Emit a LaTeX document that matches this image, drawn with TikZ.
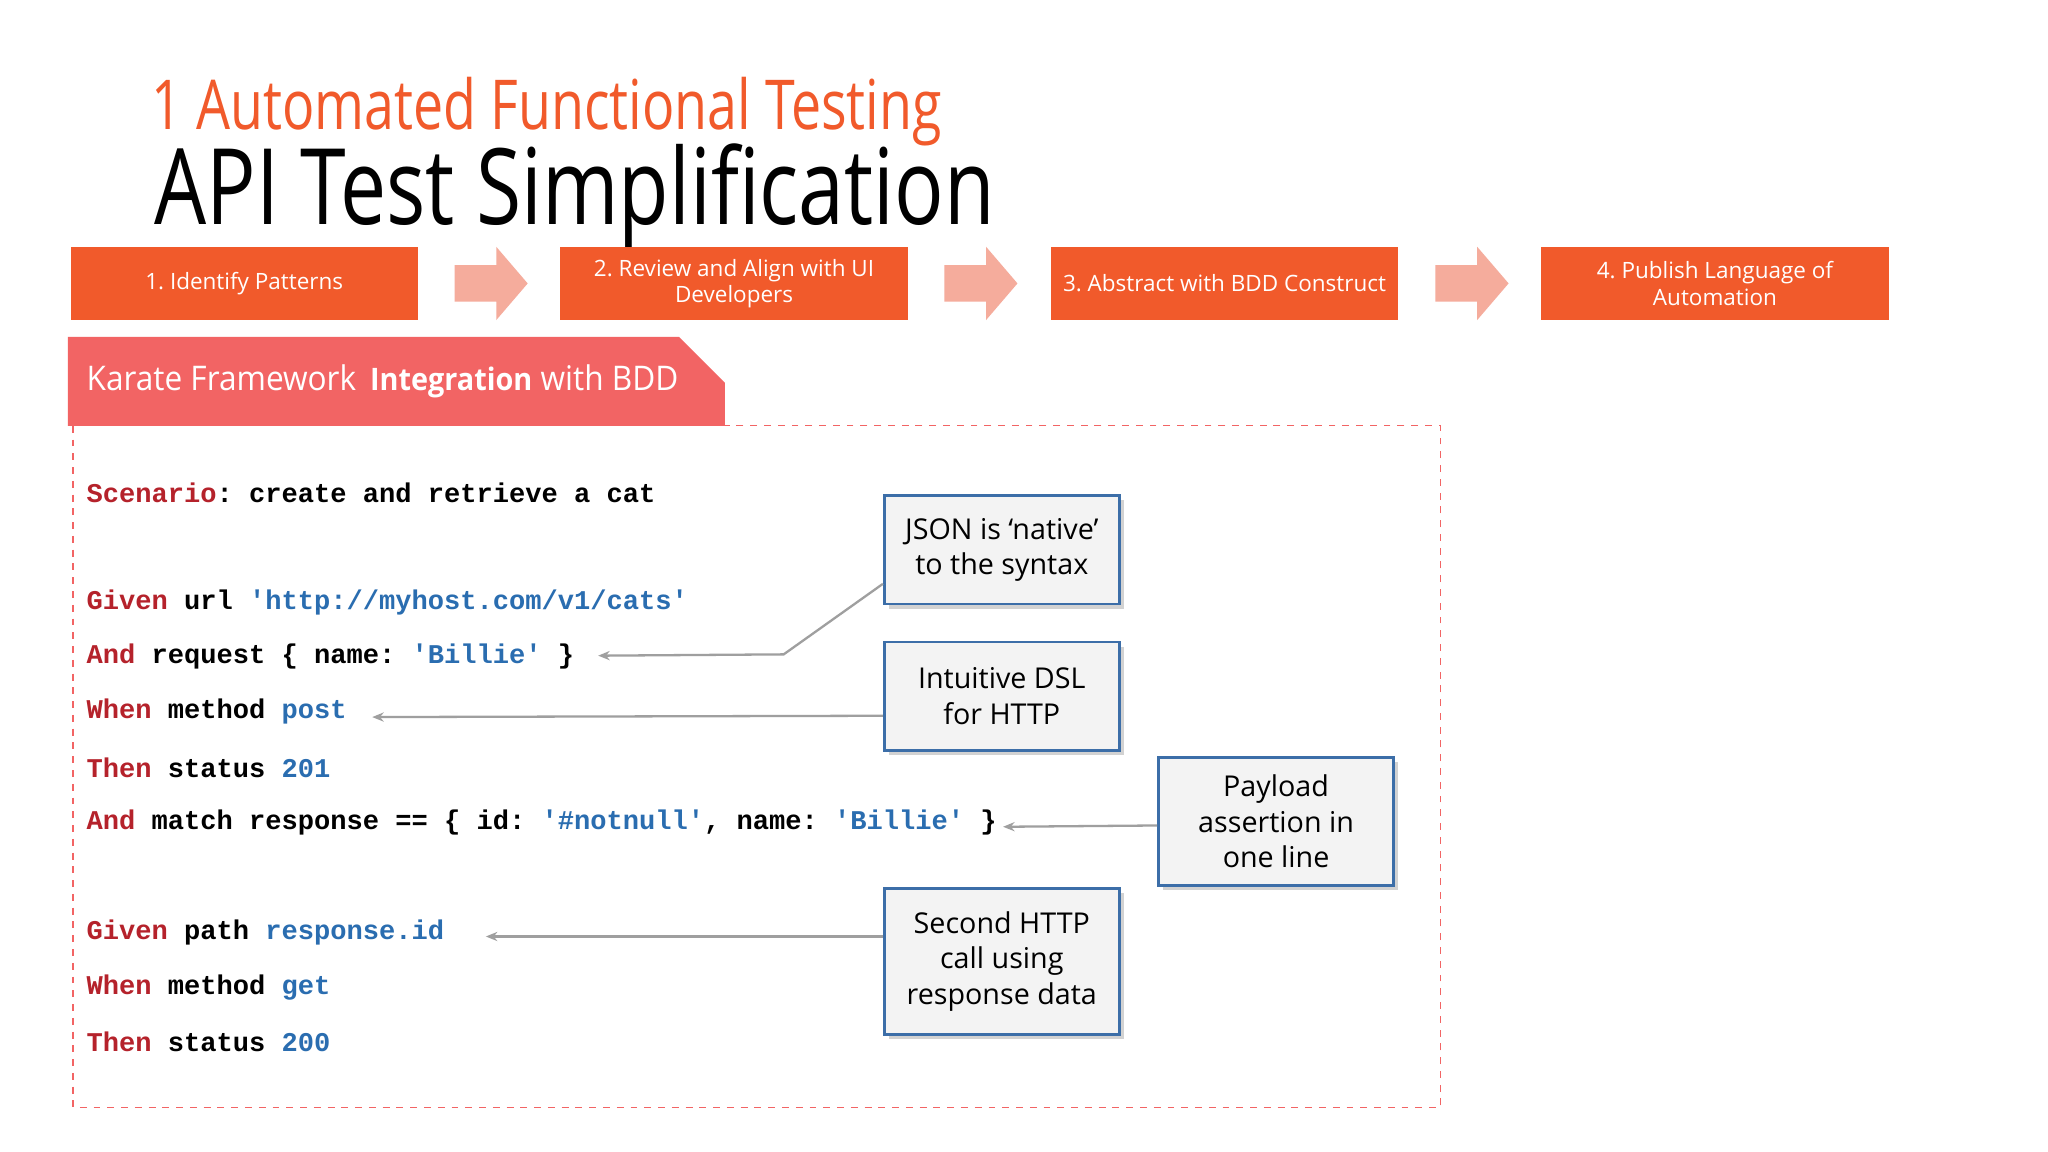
\documentclass[tikz,border=0pt]{standalone}
\usepackage{fontspec}
\setmainfont{Open Sans}
\newfontfamily\titlefont{Open Sans}[FakeStretch=0.78]
\newfontfamily\banfont{Open Sans}[FakeStretch=0.93]
\newfontfamily\codefont{Liberation Mono}
\usetikzlibrary{arrows.meta,shadows}
\frenchspacing
\definecolor{stepor}{HTML}{F15A2B}
\definecolor{arrpink}{HTML}{F5AC9C}
\definecolor{bannerred}{HTML}{F26464}
\definecolor{kw}{HTML}{B5222B}
\definecolor{str}{HTML}{2A6DB0}
\definecolor{cbord}{HTML}{3C6EA8}
\definecolor{cfill}{HTML}{F3F3F3}
\tikzset{
 stepbox/.style={fill=stepor,text=white,minimum width=5.32cm,minimum height=1.12cm,align=center,font=\fontsize{9.8}{11.5}\selectfont,inner sep=0pt},
 callout/.style={draw=cbord,line width=1.2pt,fill=cfill,minimum width=3.6cm,align=center,font=\fontsize{12.5}{15.5}\selectfont,drop shadow={shadow xshift=2pt,shadow yshift=-2pt,opacity=.35}},
 codeline/.style={anchor=west,inner sep=0pt,font=\codefont\bfseries\fontsize{11.8}{14}\selectfont\frenchspacing},
 conn/.style={draw=gray!75,line width=1pt,-{Stealth[length=5pt,width=4pt]}},
 steparrow/.style={fill=arrpink}
}
\newcommand{\kw}[1]{\textcolor{kw}{#1}}
\newcommand{\st}[1]{\textcolor{str}{#1}}
\begin{document}
\begin{tikzpicture}[x=0.02cm,y=-0.02cm]
\useasboundingbox[fill=white] (0,0) rectangle (1568,882);
\node[anchor=base west,text=stepor,inner sep=0pt,font=\titlefont\fontsize{30}{36}\selectfont] (sub) at (116,99) {1 Automated Functional Testing};
\node[anchor=base west,inner sep=0pt,font=\titlefont\fontsize{46}{52}\selectfont] (title) at (118,172) {API Test Simplification};
\node[stepbox] (s1) at (187,217) {1. Identify Patterns};
\node[stepbox] (s2) at (562,217) {2. Review and Align with UI\\Developers};
\node[stepbox] (s3) at (937.5,217) {3. Abstract with BDD Construct};
\node[stepbox] (s4) at (1313,217) {4. Publish Language of\\Automation};
\foreach \x in {348,723,1099}{
 \fill[steparrow] (\x,203) -- (\x+32,203) -- (\x+32,189) -- (\x+56,217) -- (\x+32,245) -- (\x+32,231) -- (\x,231) -- cycle;}
\fill[bannerred] (52,258) -- (520,258) -- (555,293) -- (555,326) -- (52,326) -- cycle;
\node[anchor=base west,text=white,inner sep=0pt,font=\banfont\fontsize{14.8}{18}\selectfont] (ban) at (66,299) {Karate Framework\, \textbf{\fontsize{13.5}{16}\selectfont Integration} with BDD};
\draw[bannerred,dashed,line width=0.6pt] (56,326) rectangle (1103,848);
\node[codeline] (c1) at (66,377) {\kw{Scenario}: create and retrieve a cat};
\node[codeline] (c2) at (66,461) {\kw{Given} url \st{'http://myhost.com/v1/cats'}};
\node[codeline] (c3) at (66,503) {\kw{And} request \{ name: \st{'Billie'} \}};
\node[codeline] (c4) at (66,545) {\kw{When} method \st{post}};
\node[codeline] (c5) at (66,588) {\kw{Then} status \st{201}};
\node[codeline] (c6) at (66,630) {\kw{And} match response == \{ id: \st{'\#notnull'}, name: \st{'Billie'} \}};
\node[codeline] (c7) at (66,714) {\kw{Given} path \st{response.id}};
\node[codeline] (c8) at (66,756) {\kw{When} method \st{get}};
\node[codeline] (c9) at (66,798) {\kw{Then} status \st{200}};
\node[callout,minimum height=1.66cm] (b1) at (767,421) {JSON is ‘native’\\to the syntax};
\node[callout,minimum height=1.66cm] (b2) at (767,533) {Intuitive DSL\\for HTTP};
\node[callout,minimum height=1.96cm] (b3) at (977,629) {Payload\\assertion in\\one line};
\node[callout,minimum height=2.24cm] (b4) at (767,736) {Second HTTP\\call using\\response data};
\coordinate (k1) at (600,501);
\coordinate (e1) at (458,502);
\coordinate (e2) at (285,549);
\coordinate (e3) at (768,633);
\coordinate (e4) at (372,717);
\draw[conn] (b1.west|-0,447) -- (k1) -- (e1);
\draw[conn] (b2.west|-0,548) -- (e2);
\draw[conn] (b3.west|-0,632) -- (e3);
\draw[conn] (b4.west|-0,717) -- (e4);
\end{tikzpicture}
\end{document}
